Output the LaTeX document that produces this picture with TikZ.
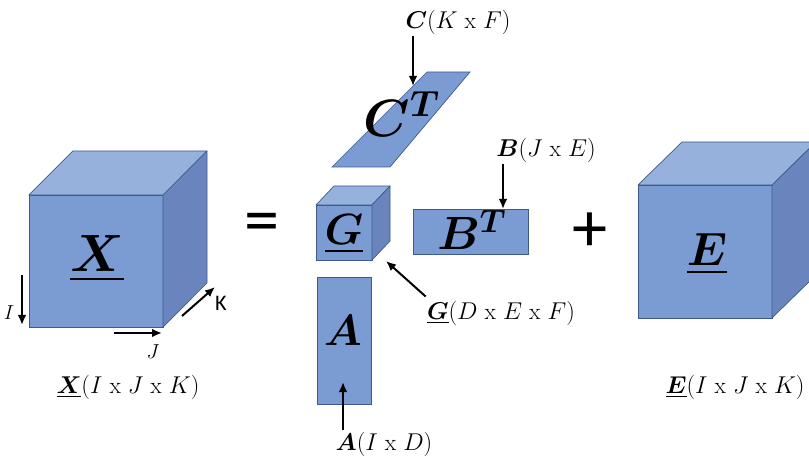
\documentclass[tikz,border=0pt]{standalone}
\usepackage{amsmath}
\usepackage{bm}
\usepackage{graphicx}
\usepackage{fontspec}
\newfontfamily\calibri{Carlito}
\usepackage{tikz}
\usetikzlibrary{arrows.meta, positioning}
\definecolor{cubefront}{HTML}{7B9CD3}
\definecolor{cubetop}{HTML}{95B1DC}
\definecolor{cubeside}{HTML}{6A85BD}
\definecolor{cubeline}{HTML}{3F5A8A}

\begin{document}
\begin{tikzpicture}[x=0.03cm, y=-0.03cm,
  face/.style={draw=cubeline, fill=cubefront, line width=0.6pt, inner sep=0pt, outer sep=0pt},
  topf/.style={draw=cubeline, fill=cubetop, line width=0.6pt, line join=round},
  sidef/.style={draw=cubeline, fill=cubeside, line width=0.6pt, line join=round},
  arr/.style={-{Latex[length=3mm, width=2.6mm]}, line width=1.7pt},
  dimlbl/.style={font=\fontsize{20}{22}\selectfont, inner sep=1pt},
  biglbl/.style={font=\fontsize{24}{26}\selectfont},
  oplbl/.style={font=\calibri\fontsize{60}{60}\selectfont}
]
  \useasboundingbox (0,0) rectangle (809,459);
  \clip (0,0) rectangle (809,459);

  % tensor X
  \node[face, minimum width=4.02cm, minimum height=3.96cm] (X) at (96,261) {};
  \draw[topf] (X.north west) -- ++(44,-44) -- ++(134,0) -- (X.north east) -- cycle;
  \draw[sidef] (X.north east) -- ++(44,-44) -- ++(0,132) -- (X.south east) -- cycle;
  \node[biglbl] (Xlbl) at (97,259) {\scalebox{1.8}{$\underline{\bm{X}}$}};
  \coordinate (Itop) at (22,275);
  \coordinate (Ibot) at (22,325);
  \draw[arr] (Itop) -- (Ibot);
  \node[font=\fontsize{19}{21}\selectfont] (Ilbl) at (9,313) {$I$};
  \coordinate (Jleft) at (114,333);
  \coordinate (Jright) at (162,333);
  \draw[arr] (Jleft) -- (Jright);
  \node[font=\fontsize{19}{21}\selectfont] (Jlbl) at (153,352) {$J$};
  \coordinate (Kbot) at (182,316);
  \coordinate (Ktop) at (215,287);
  \draw[arr] (Kbot) -- (Ktop);
  \node[font=\calibri\fontsize{19}{21}\selectfont] (Klbl) at (221,303) {K};
  \node[dimlbl] (Xdim) at (128,387) {$\underline{\bm{X}}(I\ \mathrm{x}\ J\ \mathrm{x}\ K)$};

  \node[oplbl] (eq) at (262,228) {=};

  % core G
  \node[face, minimum width=1.68cm, minimum height=1.65cm] (G) at (344,232.5) {};
  \draw[topf] (G.north west) -- ++(18,-19) -- ++(56,0) -- (G.north east) -- cycle;
  \draw[sidef] (G.north east) -- ++(18,-19) -- ++(0,55) -- (G.south east) -- cycle;
  \node[biglbl] (Glbl) at (344,234) {\scalebox{1.5}{$\underline{\bm{G}}$}};

  % factor C^T
  \draw[face] (332,167) -- (390,167) -- (470,72) -- (427,72) -- cycle;
  \node[biglbl] (CT) at (402,114) {\scalebox{1.8}{$\bm{C}^{\bm{T}}$}};
  \node[dimlbl] (Clbl) at (458,22) {$\bm{C}(K\ \mathrm{x}\ F)$};
  \coordinate (Ctip) at (413,86);
  \draw[arr] (Clbl.south west -| Ctip) -- (Ctip);

  % factor B^T
  \node[face, minimum width=3.45cm, minimum height=1.35cm] (BT) at (470.5,231.5) {};
  \node[biglbl] (BTlbl) at (472,230) {\scalebox{1.6}{$\bm{B}^{\bm{T}}$}};
  \node[dimlbl] (Blbl) at (546,150) {$\bm{B}(J\ \mathrm{x}\ E)$};
  \draw[arr] (Blbl.south west -| 503,0) -- (BT.north -| 503,0);

  % factor A
  \node[face, minimum width=1.62cm, minimum height=3.81cm] (A) at (344,340.5) {};
  \node[biglbl] (Albl) at (343,331) {\scalebox{1.5}{$\bm{A}$}};
  \node[dimlbl] (Adim) at (384,444) {$\bm{A}(I\ \mathrm{x}\ D)$};
  \coordinate (Atip) at (343,382);
  \draw[arr] (Adim.north west -| Atip) -- (Atip);

  \node[dimlbl] (Gdim) at (501,313) {$\underline{\bm{G}}(D\ \mathrm{x}\ E\ \mathrm{x}\ F)$};
  \coordinate (Gtip) at (386,261);
  \draw[arr] (Gdim.north west) ++(0,-3) -- (Gtip);

  \node[oplbl] (plus) at (590,232) {+};

  % error tensor E
  \node[face, minimum width=4.02cm, minimum height=3.99cm] (E) at (705,251.5) {};
  \draw[topf] (E.north west) -- ++(44,-43) -- ++(134,0) -- (E.north east) -- cycle;
  \draw[sidef] (E.north east) -- ++(44,-43) -- ++(0,133) -- (E.south east) -- cycle;
  \node[biglbl] (Elbl) at (707,254) {\scalebox{1.6}{$\underline{\bm{E}}$}};
  \node[dimlbl, anchor=east] (Edim) at (806,387) {$\underline{\bm{E}}(I\ \mathrm{x}\ J\ \mathrm{x}\ K)$};
\end{tikzpicture}
\end{document}
